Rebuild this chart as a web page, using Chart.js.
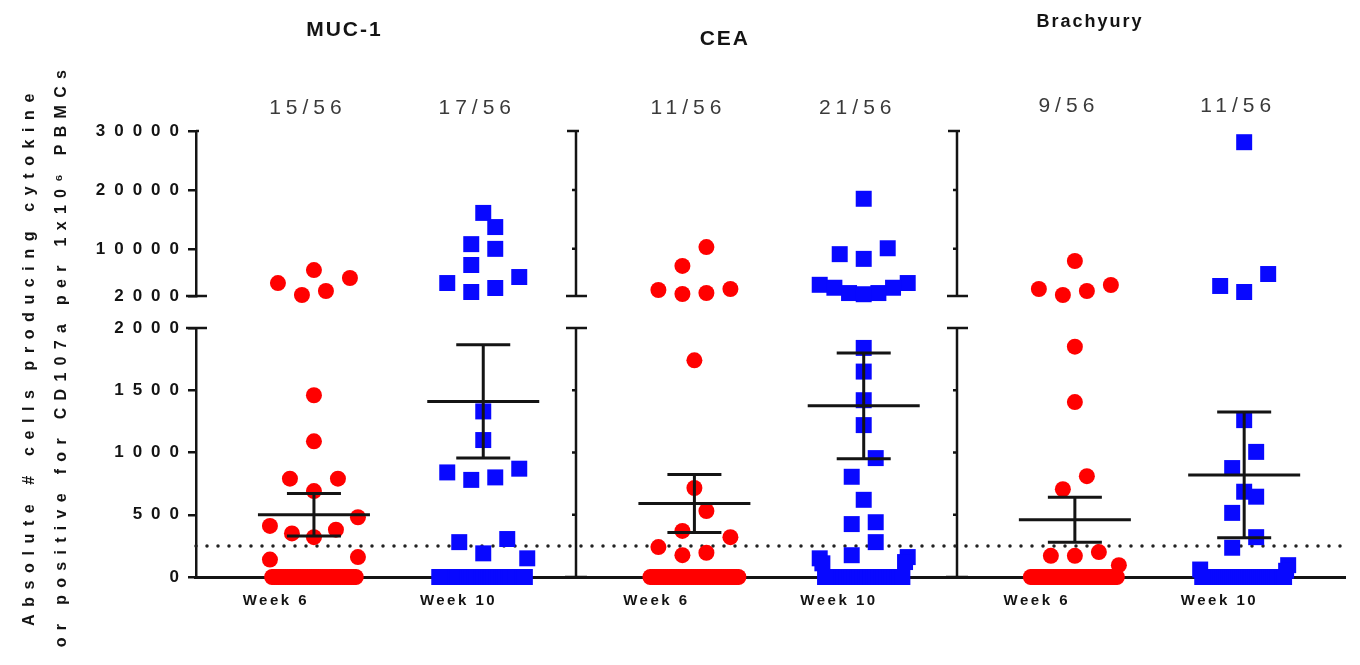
<!DOCTYPE html>
<html>
<head>
<meta charset="utf-8">
<title>Cytokine / CD107a responders by antigen</title>
<script src="https://cdn.jsdelivr.net/npm/chart.js@4.4.1/dist/chart.umd.min.js"></script>
<style>
  html, body { margin: 0; padding: 0; background: #fff; }
  canvas { display: block; }
</style>
</head>
<body>
<canvas id="dotChart" width="1360" height="665"></canvas>
<script>
// panels and time points
const antigens = ['MUC-1', 'CEA', 'Brachyury'];
const weeks = ['Week 6', 'Week 10'];
const responders = ['15/56', '17/56', '11/56', '21/56', '9/56', '11/56'];

// non-zero values (cells per 1x10^6 PBMCs)
const mucWeek6 = [6400, 5050, 4200, 2850, 2170, 1460, 1090, 790, 790, 690, 480, 410, 380, 350, 320, 160, 140];
const mucWeek10 = [16100, 13700, 10800, 10000, 7260, 5220, 4200, 3360, 2680, 1330, 1100, 870, 840, 800, 780, 305, 280, 190, 150];
const ceaWeek6 = [10300, 7100, 3190, 3020, 2510, 2340, 1740, 715, 530, 370, 320, 240, 195, 175];
const ceaWeek10 = [18500, 10100, 9100, 8300, 4200, 3900, 3400, 3400, 2500, 2500, 2300, 1840, 1650, 1420, 1220, 955, 805, 620, 440, 425, 280, 175, 160, 150, 120, 110];
const brachWeek6 = [7940, 3870, 3190, 2850, 2170, 1850, 1405, 810, 705, 200, 170, 170, 95];
const brachWeek10 = [28100, 5730, 3700, 2680, 1260, 1005, 875, 685, 645, 515, 320, 235, 95, 60, 50];

// patients sitting on zero in each group (56 per group)
const zeroCounts = [39, 37, 42, 30, 43, 41];

// mean and SEM bars
const groupMeans = [500, 1410, 590, 1375, 460, 820];
const groupSems = [170, 455, 233, 425, 180, 505];

const cutoff = 250;
const upperTicks = [2000, 10000, 20000, 30000];
const lowerTicks = [0, 500, 1000, 1500, 2000];

// layout bits
const weekPos = [0.31, 0.755];     // where each week's dots sit inside its panel
const weekLabelPos = [0.21, 0.69]; // where the week labels sit
const xMax = 3.02;
const titleOffset = [0.39, 0.39, 0.35];
const titleY = [30, 39, 22];
const titleSize = [21, 21, 18];
const rowHeight = 20;
const slotWidth = 24;
const maxHalf = 44;

const red = 'rgb(255, 0, 0)';
const blue = 'rgb(8, 8, 255)';
const ink = '#141414';

const groupValues = [mucWeek6, mucWeek10, ceaWeek6, ceaWeek10, brachWeek6, brachWeek10];

function groupCenter(g) {
    return Math.floor(g / 2) + weekPos[g % 2];
}

let datasets = [];
groupValues.forEach((vals, g) => {
    const all = vals.concat(new Array(zeroCounts[g]).fill(0));
    const isW6 = g % 2 === 0;
    ['yHigh', 'yLow'].forEach(axisId => {
        const part = all.filter(v => axisId === 'yHigh' ? v > 2000 : v <= 2000);
        datasets.push({
            type: 'scatter',
            label: antigens[Math.floor(g / 2)] + ' ' + weeks[g % 2],
            center: groupCenter(g),
            yAxisID: axisId,
            data: part.map(v => ({ x: groupCenter(g), y: v })),
            pointStyle: isW6 ? 'circle' : 'rect',
            pointRadius: isW6 ? 8 : 11.3,
            backgroundColor: isW6 ? red : blue,
            borderWidth: 0,
            clip: false,
            order: 1
        });
    });
});

datasets.push({
    type: 'line',
    label: 'cutoff',
    yAxisID: 'yLow',
    data: [{ x: 0, y: cutoff }, { x: xMax, y: cutoff }],
    borderColor: '#222',
    borderWidth: 3.5,
    borderDash: [0, 11],
    borderCapStyle: 'round',
    pointRadius: 0,
    clip: false,
    order: 10
});

// axis breaks, panel axes
const breakAxes = {
    id: 'breakAxes',
    beforeDatasetsDraw(chart) {
        const ctx = chart.ctx;
        const xs = chart.scales.x, yh = chart.scales.yHigh, yl = chart.scales.yLow;
        ctx.save();
        ctx.strokeStyle = ink;
        ctx.lineWidth = 2.5;
        [0, 1, 2].forEach(p => {
            const X = Math.round(xs.getPixelForValue(p));
            ctx.beginPath();
            if (p > 0) {
                ctx.moveTo(X, yh.top); ctx.lineTo(X, yh.bottom);
                ctx.moveTo(X, yl.top); ctx.lineTo(X, yl.bottom);
                upperTicks.slice(1, -1).forEach(v => {
                    const y = yh.getPixelForValue(v);
                    ctx.moveTo(X - 4, y); ctx.lineTo(X, y);
                });
                lowerTicks.slice(1, -1).forEach(v => {
                    const y = yl.getPixelForValue(v);
                    ctx.moveTo(X - 4, y); ctx.lineTo(X, y);
                });
                ctx.moveTo(X - 9, yh.top); ctx.lineTo(X, yh.top);
                ctx.moveTo(X - 11, yl.bottom); ctx.lineTo(X + 11, yl.bottom);
            }
            ctx.moveTo(X - 10, yh.bottom); ctx.lineTo(X + 11, yh.bottom);
            ctx.moveTo(X - 10, yl.top); ctx.lineTo(X + 11, yl.top);
            ctx.moveTo(X, yh.top); ctx.lineTo(X + 3, yh.top);
            ctx.stroke();
        });
        ctx.restore();
    }
};

// mean +/- SEM
const meanBars = {
    id: 'meanBars',
    afterDatasetsDraw(chart) {
        const ctx = chart.ctx;
        const xs = chart.scales.x, yl = chart.scales.yLow;
        ctx.save();
        ctx.strokeStyle = ink;
        ctx.lineWidth = 3;
        groupMeans.forEach((m, g) => {
            const cx = xs.getPixelForValue(groupCenter(g));
            const ym = yl.getPixelForValue(m);
            const yt = yl.getPixelForValue(m + groupSems[g]);
            const yb = yl.getPixelForValue(m - groupSems[g]);
            ctx.beginPath();
            ctx.moveTo(cx - 56, ym); ctx.lineTo(cx + 56, ym);
            ctx.moveTo(cx - 27, yt); ctx.lineTo(cx + 27, yt);
            ctx.moveTo(cx - 27, yb); ctx.lineTo(cx + 27, yb);
            ctx.moveTo(cx, yt); ctx.lineTo(cx, yb);
            ctx.stroke();
        });
        ctx.restore();
        // y tick labels are drawn after this (ticks.z = 1), wide spaced
        ctx.letterSpacing = '9px';
    }
};

const textLayer = {
    id: 'textLayer',
    beforeDraw(chart) {
        chart.ctx.letterSpacing = '2.5px';
    },
    afterDraw(chart) {
        const ctx = chart.ctx;
        const xs = chart.scales.x;
        ctx.save();
        ctx.textAlign = 'center';
        ctx.textBaseline = 'middle';
        ctx.fillStyle = ink;
        ctx.letterSpacing = '2px';
        antigens.forEach((name, p) => {
            ctx.font = 'bold ' + titleSize[p] + 'px "Liberation Sans", Arial, sans-serif';
            ctx.fillText(name, xs.getPixelForValue(p + titleOffset[p]), titleY[p]);
        });
        ctx.font = '21px "Liberation Sans", Arial, sans-serif';
        ctx.fillStyle = '#3a3a3a';
        ctx.letterSpacing = '5px';
        responders.forEach((txt, g) => {
            ctx.fillText(txt, xs.getPixelForValue(groupCenter(g)) - 6, g < 4 ? 108 : 106);
        });
        ctx.fillStyle = ink;
        ctx.font = 'bold 16px "Liberation Sans", Arial, sans-serif';
        ctx.translate(30, 356);
        ctx.rotate(-Math.PI / 2);
        ctx.letterSpacing = '7.6px';
        ctx.fillText('Absolute # cells producing cytokine', 0, 0);
        ctx.letterSpacing = '7.3px';
        ctx.fillText('or positive for CD107a per 1x10\u2076 PBMCs', 1, 32);
        ctx.restore();
        ctx.letterSpacing = '0px';
    }
};

const tickFont = { family: '"Liberation Sans", Arial, sans-serif', size: 17, weight: 'bold' };
const yAxisCommon = {
    type: 'linear',
    position: 'left',
    stack: 'v',
    border: { color: ink, width: 2.5 },
    grid: { drawOnChartArea: false, tickLength: 8, color: ink, lineWidth: 2.5 },
    ticks: { z: 1, padding: 0, color: ink, font: tickFont, callback: v => String(v) },
    afterFit: s => { s.width = 110; }
};

const chart = new Chart(document.getElementById('dotChart'), {
    data: { datasets: datasets },
    options: {
        responsive: false,
        animation: false,
        events: [],
        layout: { padding: { left: 86, right: 15, top: 131, bottom: 0 } },
        plugins: { legend: { display: false }, tooltip: { enabled: false } },
        scales: {
            x: {
                type: 'linear',
                min: 0,
                max: xMax,
                border: { color: ink, width: 3 },
                grid: { display: false },
                afterBuildTicks: s => {
                    s.ticks = groupValues.map((v, g) => ({ value: Math.floor(g / 2) + weekLabelPos[g % 2] }));
                },
                afterFit: s => { s.height = 88; },
                ticks: {
                    autoSkip: false,
                    maxRotation: 0,
                    minRotation: 0,
                    padding: 7,
                    color: ink,
                    font: { family: '"Liberation Sans", Arial, sans-serif', size: 15, weight: 'bold' },
                    callback: (v, i) => weeks[i % 2]
                }
            },
            yLow: Object.assign({}, yAxisCommon, {
                stackWeight: 249,
                min: 0,
                max: 2000,
                afterBuildTicks: s => { s.ticks = lowerTicks.map(v => ({ value: v })); }
            }),
            yGap: {
                type: 'linear',
                position: 'left',
                stack: 'v',
                stackWeight: 32,
                border: { display: false },
                grid: { display: false },
                ticks: { display: false }
            },
            yHigh: Object.assign({}, yAxisCommon, {
                stackWeight: 165,
                min: 2000,
                max: 30000,
                afterBuildTicks: s => { s.ticks = upperTicks.map(v => ({ value: v })); }
            })
        }
    },
    plugins: [breakAxes, meanBars, textLayer]
});

// spread points sideways in rows, like a column scatter
function spreadPoints(chart) {
    const xs = chart.scales.x;
    const pxPerUnit = xs.getPixelForValue(1) - xs.getPixelForValue(0);
    chart.data.datasets.forEach(ds => {
        if (ds.center === undefined) return;
        const ys = chart.scales[ds.yAxisID];
        const pts = ds.data
            .map(p => ({ p: p, py: ys.getPixelForValue(p.y) }))
            .sort((a, b) => b.py - a.py);
        const rows = [];
        let row = [];
        pts.forEach(item => {
            if (row.length && row[0].py - item.py > rowHeight) {
                rows.push(row);
                row = [];
            }
            row.push(item);
        });
        if (row.length) rows.push(row);
        rows.forEach(r => {
            const n = r.length;
            const step = n > 1 ? Math.min(slotWidth, 2 * maxHalf / (n - 1)) : 0;
            r.forEach((item, i) => {
                let slot;
                if (n % 2) {
                    slot = i === 0 ? 0 : (i % 2 ? -1 : 1) * Math.ceil(i / 2);
                } else {
                    slot = (i % 2 ? 1 : -1) * (Math.floor(i / 2) + 0.5);
                }
                item.p.x = ds.center + slot * step / pxPerUnit;
            });
        });
    });
    chart.update('none');
}

spreadPoints(chart);
</script>
</body>
</html>
